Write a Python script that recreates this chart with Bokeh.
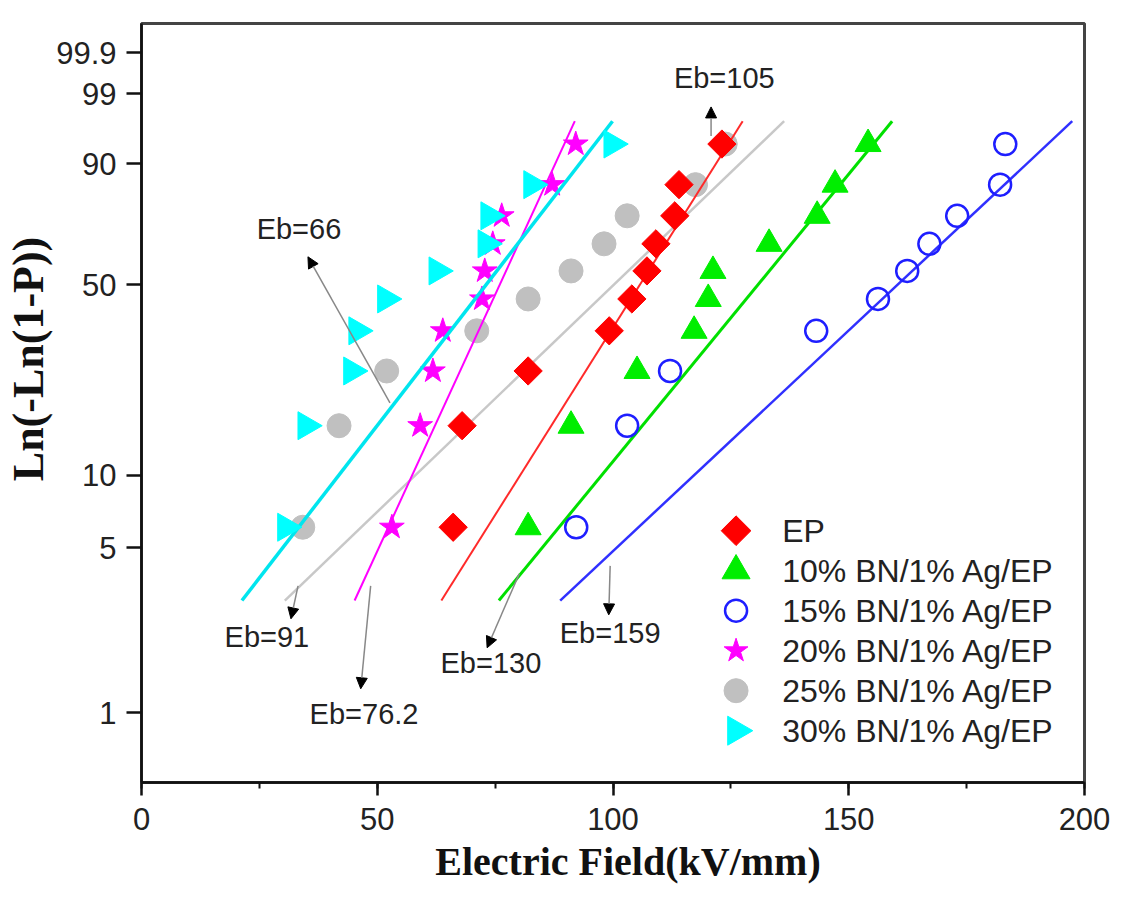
import math
from bokeh.plotting import figure
from bokeh.models import (Range1d, FixedTicker, SingleIntervalTicker, Label, Arrow, NormalHead,
                          ColumnDataSource)
from bokeh.embed import file_html
from bokeh.resources import INLINE

# ---- data ----
prob_pct = [6.1, 15.8, 25.6, 35.6, 45.3, 54.9, 64.7, 74.7, 84.6, 93.9]
ep = [66.1, 68.0, 82.0, 99.2, 104.0, 107.2, 109.1, 113.1, 114.0, 123.1]
bn10 = [82.0, 91.1, 105.1, 117.2, 120.2, 121.2, 133.1, 143.3, 147.1, 154.1]
bn15 = [92.2, 103.0, 112.1, 143.1, 156.2, 162.4, 167.1, 173.0, 182.1, 183.2]
bn20 = [53.1, 59.1, 61.8, 63.9, 72.2, 72.8, 74.5, 76.4, 87.1, 92.1]
bn25 = [34.2, 41.9, 52.0, 71.1, 82.0, 91.1, 98.1, 103.0, 117.5, 123.8]
bn30 = [30.6, 34.9, 44.6, 45.7, 51.8, 62.7, 73.1, 73.7, 82.8, 99.8]

fit_prob_pct = [3.0, 97.0]
fit_ep = [63.6, 127.5]
fit_bn10 = [75.8, 159.2]
fit_bn15 = [88.8, 197.4]
fit_bn20 = [45.2, 91.9]
fit_bn25 = [30.4, 136.3]
fit_bn30 = [21.3, 99.9]

series_names = ["EP", "10% BN/1% Ag/EP", "15% BN/1% Ag/EP", "20% BN/1% Ag/EP",
                "25% BN/1% Ag/EP", "30% BN/1% Ag/EP"]

y_tick_pct = [1, 5, 10, 50, 90, 99, 99.9]
y_tick_labels = ["1", "5", "10", "50", "90", "99", "99.9"]
x_ticks_interval = 50

# annotations (x in kV/mm, y in Weibull units ln(-ln(1-P)))
eb_texts = ["Eb=66", "Eb=91", "Eb=76.2", "Eb=130", "Eb=159", "Eb=105"]
eb_text_x = [33.4, 26.6, 47.2, 74.1, 99.4, 123.6]
eb_text_w = [0.187, -3.851, -4.613, -4.108, -3.811, 1.684]
arrow_x0 = [52.7, 33.2, 48.6, 80.1, 99.4, 120.8]
arrow_w0 = [-1.534, -3.346, -3.346, -3.227, -3.148, 1.109]
arrow_x1 = [35.3, 31.7, 46.5, 73.3, 99.1, 120.8]
arrow_w1 = [-0.088, -3.672, -4.365, -3.959, -3.633, 1.396]

# legend layout (x in kV/mm, y in Weibull units)
legend_marker_x = 126.1
legend_text_x = 135.9
legend_top_w = -2.80
legend_step_w = 0.396


def weib(p):
    return math.log(-math.log(1.0 - p / 100.0))


yw = [weib(v) for v in prob_pct]
fit_w = [weib(v) for v in fit_prob_pct]

p = figure(width=1120, height=891, output_backend="svg", toolbar_location=None,
           x_range=Range1d(0, 200), y_range=Range1d(-5.293, 2.222),
           min_border_left=141, min_border_right=36, min_border_top=23, min_border_bottom=109)
p.xgrid.visible = False
p.ygrid.visible = False
p.outline_line_color = "#444444"
p.outline_line_width = 3
p.background_fill_color = "white"
p.border_fill_color = "white"

tick_vals = [round(weib(v), 5) for v in y_tick_pct]
p.yaxis.ticker = FixedTicker(ticks=tick_vals, minor_ticks=[])
p.yaxis.major_label_overrides = {t: l for t, l in zip(tick_vals, y_tick_labels)}
p.xaxis.ticker = SingleIntervalTicker(interval=x_ticks_interval, num_minor_ticks=2)

for ax in (p.xaxis[0], p.yaxis[0]):
    ax.axis_line_width = 2.5
    ax.axis_line_color = "#111111"
    ax.major_tick_line_width = 2.5
    ax.major_tick_line_color = "#111111"
    ax.major_tick_in = 0
    ax.minor_tick_in = 0
    ax.minor_tick_line_width = 2
    ax.minor_tick_line_color = "#111111"
    ax.major_label_text_font = "Liberation Sans"
    ax.major_label_text_font_size = "31px"
    ax.major_label_text_color = "#222222"
    ax.axis_label_text_font = "Liberation Serif"
    ax.axis_label_text_font_style = "bold"
    ax.axis_label_text_color = "#111111"

p.yaxis.major_tick_out = 15
p.yaxis.major_label_standoff = 10
p.xaxis.major_tick_out = 13
p.xaxis.minor_tick_out = 6
p.xaxis.major_label_standoff = 12

NB = "\u00a0"
p.xaxis.axis_label = NB * 3 + "Electric Field(kV/mm)"
p.xaxis.axis_label_text_font_size = "40px"
p.xaxis.axis_label_standoff = 6
p.yaxis.axis_label = NB * 8 + "Ln(-Ln(1-P))"
p.yaxis.axis_label_text_font_size = "44px"
p.yaxis.axis_label_standoff = 0

specs = [
    (bn25, fit_bn25, 4, dict(marker="circle", size=24, fill_color="#C0C0C0", line_color="#C0C0C0"),
     dict(line_color="#C8C8C8", line_width=2.5), dict(size=24)),
    (ep, fit_ep, 0, dict(marker="square", size=20, angle=math.pi / 4, fill_color="#FF0000", line_color="#FF0000"),
     dict(line_color="#FF2A2A", line_width=2), dict(size=21)),
    (bn10, fit_bn10, 1, dict(marker="triangle", size=26, fill_color="#00EE00", line_color="#00EE00"),
     dict(line_color="#00E000", line_width=3), dict(size=28)),
    (bn15, fit_bn15, 2, dict(marker="circle", size=22, fill_color=None, line_color="#1E1EFF", line_width=2.5),
     dict(line_color="#3030FF", line_width=2.5), dict(size=22)),
    (bn20, fit_bn20, 3, dict(marker="star", size=26, fill_color="#FF00FF", line_color="#FF00FF"),
     dict(line_color="#FF00FF", line_width=2), dict(size=25)),
    (bn30, fit_bn30, 5, dict(marker="triangle", size=28, angle=-math.pi / 2, fill_color="#00FFFF", line_color="#00FFFF"),
     dict(line_color="#00E5EE", line_width=3.5), dict(size=29)),
]

for xs, fx, idx, mstyle, lstyle, legstyle in specs:
    p.line(x=fx, y=fit_w, **lstyle)
    src = ColumnDataSource(dict(x=xs, y=yw))
    p.scatter(x="x", y="y", source=src, **mstyle)
    # legend entry
    row_w = legend_top_w - idx * legend_step_w
    lst = dict(mstyle)
    lst.update(legstyle)
    p.scatter(x=[legend_marker_x], y=[row_w], **lst)
    p.add_layout(Label(x=legend_text_x, y=row_w, text=series_names[idx], text_align="left",
                       text_baseline="middle", text_font="Liberation Sans", text_font_size="32px",
                       text_color="#222222"))

for i in range(len(eb_texts)):
    p.add_layout(Arrow(x_start=arrow_x0[i], y_start=arrow_w0[i], x_end=arrow_x1[i], y_end=arrow_w1[i],
                       line_color="#888888", line_width=1.5,
                       end=NormalHead(size=11, fill_color="black", line_color="black")))
    p.add_layout(Label(x=eb_text_x[i], y=eb_text_w[i], text=eb_texts[i], text_align="center",
                       text_baseline="middle", text_font="Liberation Sans", text_font_size="29px",
                       text_color="#222222"))

open("out.html", "w").write(file_html(p, INLINE))
